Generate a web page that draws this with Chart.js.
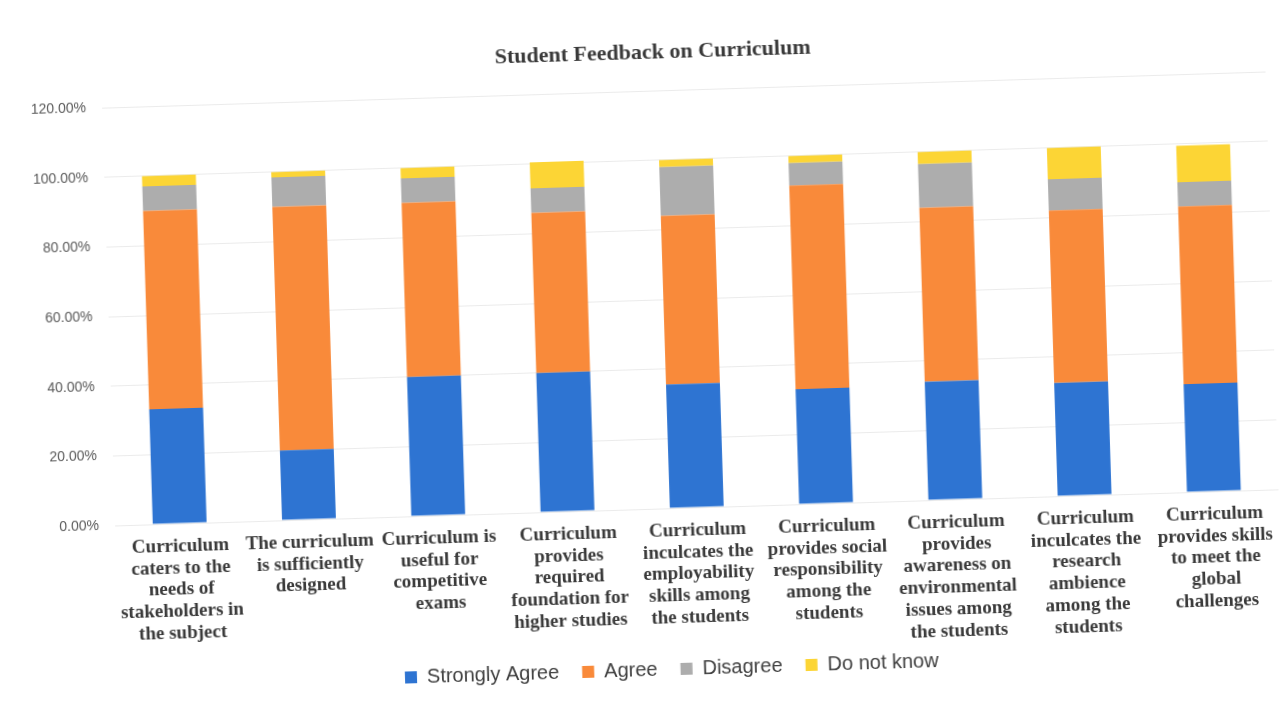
<!DOCTYPE html>
<html>
<head>
<meta charset="utf-8">
<script src="https://cdn.jsdelivr.net/npm/chart.js@4.4.1/dist/chart.umd.min.js"></script>
<style>
  html, body { margin: 0; padding: 0; background: #fff; overflow: hidden; }
  #wrap {
    width: 1287px;
    height: 708px;
    transform: rotate(-1.78deg);
    transform-origin: 643px 354px;
  }
</style>
</head>
<body>
<div id="wrap"><canvas id="chart" width="1287" height="708"></canvas></div>
<script>
const categories = [
  ['Curriculum', 'caters to the', 'needs of', 'stakeholders in', 'the subject'],
  ['The curriculum', 'is sufficiently', 'designed'],
  ['Curriculum is', 'useful for', 'competitive', 'exams'],
  ['Curriculum', 'provides', 'required', 'foundation for', 'higher studies'],
  ['Curriculum', 'inculcates the', 'employability', 'skills among', 'the students'],
  ['Curriculum', 'provides social', 'responsibility', 'among the', 'students'],
  ['Curriculum', 'provides', 'awareness on', 'environmental', 'issues among', 'the students'],
  ['Curriculum', 'inculcates the', 'research', 'ambience', 'among the', 'students'],
  ['Curriculum', 'provides skills', 'to meet the', 'global', 'challenges'],
];

// percentages
const stronglyAgree = [33, 20, 40, 40, 35.5, 33, 34, 32.5, 31];
const agree = [57, 70, 50, 46, 48.5, 58.5, 50, 49.5, 51];
const disagree = [7, 8.5, 7, 7, 14, 6.5, 12.5, 9, 7];
const doNotKnow = [3, 1.5, 3, 7.5, 2, 2, 3.5, 9, 10.5];

const yTicks = [0, 20, 40, 60, 80, 100, 120];

const bar = (label, data, color) => {
  return {
    label: label,
    data: data,
    backgroundColor: color,
    borderWidth: 0,
    categoryPercentage: 0.85,
    barPercentage: 0.49,
  };
};

// labels are allowed to run outside their scale box (long multi-line categories)
const noLabelClip = (scale) => {
  scale._computeLabelArea = () => undefined;
};

new Chart(document.getElementById('chart'), {
  type: 'bar',
  data: {
    labels: categories,
    datasets: [
      bar('Strongly Agree', stronglyAgree, '#2e74d2'),
      bar('Agree', agree, '#f98a3a'),
      bar('Disagree', disagree, '#adadad'),
      bar('Do not know', doNotKnow, '#fcd535'),
    ],
  },
  options: {
    responsive: false,
    animation: false,
    layout: {
      padding: { left: 50, right: 13, top: 0, bottom: 18 },
    },
    scales: {
      x: {
        stacked: true,
        grid: { display: false, drawTicks: false },
        border: { display: false },
        ticks: {
          padding: 12,
          maxRotation: 0,
          autoSkip: false,
          color: '#3a3a3a',
          font: { family: 'Liberation Serif', size: 19, weight: 'bold', lineHeight: 1.147 },
        },
        afterFit: (scale) => {
          scale.height = 128;
          noLabelClip(scale);
        },
      },
      y: {
        stacked: true,
        min: 0,
        max: 120,
        afterBuildTicks: (scale) => {
          scale.ticks = yTicks.map((v) => ({ value: v }));
        },
        grid: { color: '#ebebeb', drawTicks: false },
        border: { display: false },
        ticks: {
          padding: 16,
          color: '#5a5a5a',
          font: { family: 'Liberation Sans', size: 14 },
          callback: (v) => v.toFixed(2) + '%',
        },
        afterFit: (scale) => {
          scale.width = 60;
          noLabelClip(scale);
        },
      },
    },
    plugins: {
      title: {
        display: true,
        text: 'Student Feedback on Curriculum',
        color: '#3a3a3a',
        font: { family: 'Liberation Serif', size: 22, weight: 'bold' },
        padding: { top: 40, bottom: 24.6 },
      },
      legend: {
        position: 'bottom',
        labels: {
          boxWidth: 12,
          boxHeight: 12,
          padding: 23,
          color: '#404040',
          font: { family: 'Liberation Sans', size: 20 },
        },
      },
      tooltip: { enabled: false },
    },
  },
});
</script>
</body>
</html>
